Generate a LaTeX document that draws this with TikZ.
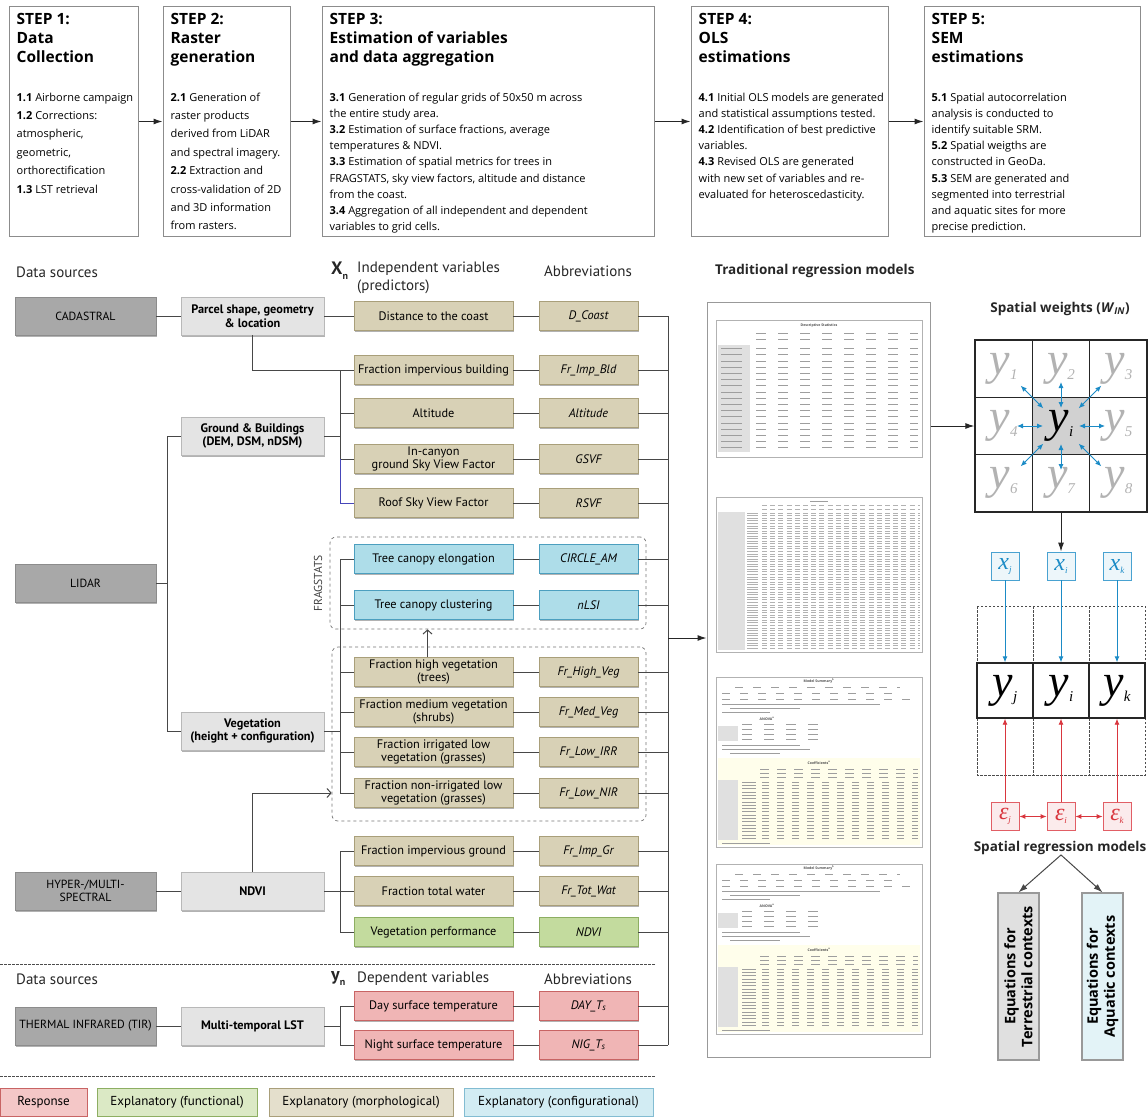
\documentclass[tikz,border=0pt]{standalone}
\usepackage{fontspec}
\setmainfont{Open Sans}
\newfontfamily\dinfont{PT Sans}
\newfontfamily\glyphit{Liberation Serif}
\usetikzlibrary{arrows.meta,shadows,positioning}

\definecolor{tanfill}{HTML}{D8D1B6}
\definecolor{tanline}{HTML}{A99F7A}
\definecolor{cfgfill}{HTML}{AEDDE9}
\definecolor{cfgline}{HTML}{4C9FBF}
\definecolor{funfill}{HTML}{C3DB9E}
\definecolor{funline}{HTML}{8DAE62}
\definecolor{resfill}{HTML}{F0B5B5}
\definecolor{resline}{HTML}{C86464}
\definecolor{srcfill}{HTML}{A8A8A8}
\definecolor{srcline}{HTML}{8C8C8C}
\definecolor{prodfill}{HTML}{E4E4E4}
\definecolor{prodline}{HTML}{B8B8B8}
\definecolor{wblue}{HTML}{1B8BC6}
\definecolor{wred}{HTML}{D9363E}

% big italic letters of the weights grid
\newcommand{\ylab}[1]{{\glyphit\itshape\fontsize{46}{46}\selectfont y}\raisebox{-5pt}{\glyphit\itshape\fontsize{15}{15}\selectfont #1}}
\newcommand{\olstab}[1]{%
  \begin{scope}[shift={(0,#1)}]
    \draw[subtab] (716,0) rectangle (922,170);
    \node[tinylbl] at (819,4) {Model Summary\textsuperscript{b}};
    \draw[ink, dash pattern=on 8pt off 10pt] (735,10) -- (900,10);
    \draw[ink, dash pattern=on 8pt off 10pt] (722,16) -- (900,16);
    \draw[ink, dash pattern=on 8pt off 10pt] (722,22) -- (910,22);
    \draw[ink] (722,27) -- (880,27);
    \draw[ink] (730,31) -- (800,31);
    \draw[ink] (722,35) -- (770,35);
    \node[tinylbl] at (767,42) {ANOVA\textsuperscript{a}};
    \fill[black!12] (718,49) rectangle (738,64);
    \foreach \yy in {47,52,57,62} \draw[ink, dash pattern=on 10pt off 12pt] (742,\yy) -- (822,\yy);
    \draw[ink] (722,68) -- (800,68);
    \draw[ink] (722,72) -- (810,72);
    \draw[ink] (730,76) -- (780,76);
    \fill[yellow!8] (718,81) rectangle (920,168);
    \node[tinylbl] at (819,86) {Coefficients\textsuperscript{a}};
    \foreach \yy in {92,96,100} \draw[ink, dash pattern=on 9pt off 8pt] (760,\yy) -- (918,\yy);
    \fill[black!12] (718,103) rectangle (738,163);
    \foreach \r in {0,...,17} {
      \draw[ink] (742,{105+3.3*\r}) -- (756,{105+3.3*\r});
      \draw[ink, dash pattern=on 7pt off 8pt] (762,{105+3.3*\r}) -- (918,{105+3.3*\r});
    }
    \draw[ink] (722,166) -- (770,166);
  \end{scope}}

\begin{document}
\begin{tikzpicture}[x=1pt,y=-1pt,
    shadowed/.style={drop shadow={shadow xshift=1.2pt,shadow yshift=-1.5pt,opacity=0.3,fill=black}},
    stepbox/.style={draw=black!45, line width=1pt, minimum height=229, inner sep=0},
    steptitle/.style={anchor=north west, align=left, inner sep=0, font=\fontsize{15.5}{18.8}\selectfont\bfseries},
    stepbody/.style={anchor=north west, align=left, inner sep=0, font=\fontsize{11}{18.4}\selectfont},
    stepbodyb/.style={stepbody, font=\fontsize{11}{16.2}\selectfont},
    steparrow/.style={draw=black!85, line width=1pt, -{Latex[length=9pt,width=6pt]}},
    src/.style={shadowed, draw=srcline, fill=srcfill, minimum width=141, minimum height=38, inner sep=1pt, align=center, font=\dinfont\fontsize{11.8}{13.5}\selectfont},
    prod/.style={shadowed, draw=prodline, fill=prodfill, minimum width=143, minimum height=38, inner sep=1pt, align=center, font=\dinfont\bfseries\fontsize{12.3}{13.5}\selectfont},
    var/.style={shadowed, draw=tanline, fill=tanfill, line width=0.9pt, minimum width=159, minimum height=29, inner sep=1pt, align=center, font=\dinfont\fontsize{12.3}{13}\selectfont},
    abbr/.style={var, minimum width=99, font=\dinfont\itshape\fontsize{12.3}{13}\selectfont},
    cfg/.style={draw=cfgline, fill=cfgfill},
    fun/.style={draw=funline, fill=funfill},
    res/.style={draw=resline, fill=resfill},
    con/.style={draw=black!72, line width=1pt},
    openarrow/.style={con, -{Straight Barb[length=4pt,width=9pt]}},
    fragbox/.style={draw=black!55, dashed, rounded corners=6pt, line width=0.7pt, inner sep=0},
    sep/.style={draw=black!70, line width=1pt, dash pattern=on 2.5pt off 1.5pt},
    head/.style={inner sep=0, align=left, text=black!85, font=\dinfont\fontsize{15}{17.5}\selectfont},
    rtitle/.style={inner sep=0, text=black!85, font=\fontsize{13.5}{15}\selectfont\bfseries},
    lgd/.style={minimum height=28, inner sep=0, font=\dinfont\fontsize{13}{14}\selectfont},
    subtab/.style={draw=black!30, line width=0.6pt},
    ink/.style={draw=black!38, line width=0.6pt},
    ink2/.style={draw=black!30, line width=0.45pt},
    tinylbl/.style={inner sep=0, font=\fontsize{3.5}{4}\selectfont\bfseries, text=black!70},
    cell/.style={draw=black!85, line width=1.4pt, minimum size=57.3, inner sep=0},
    xbox/.style={draw=wblue!80, fill=wblue!8, line width=0.8pt, minimum size=28, inner sep=0, text=wblue, font=\glyphit\itshape\fontsize{24}{24}\selectfont},
    ebox/.style={xbox, draw=wred!80, fill=wred!10, text=wred},
    ybox/.style={draw=black!85, fill=white, line width=1.4pt, minimum width=56, minimum height=55, inner sep=0},
    barrow/.style={draw=wblue, line width=0.9pt, -{Latex[length=6pt,width=5pt]}},
    rarrow/.style={draw=wred, line width=0.9pt, -{Latex[length=6pt,width=5pt]}},
    eqbox/.style={draw=black!40, line width=1.2pt, rotate=90, minimum width=167, minimum height=41, inner sep=0, align=center, font=\fontsize{14.5}{17}\selectfont\bfseries}
  ]
  \useasboundingbox (0,0) rectangle (1148,1116);

  % five steps
  \node[stepbox, minimum width=129] (s1) at (73.5,121.5) {};
  \node[stepbox, minimum width=127] (s2) at (226.5,121.5) {};
  \node[stepbox, minimum width=332] (s3) at (488,121.5) {};
  \node[stepbox, minimum width=197] (s4) at (789.5,121.5) {};
  \node[stepbox, minimum width=216] (s5) at (1032,121.5) {};
  \node[steptitle] (t1) at ([shift={(8,7)}]s1.north west) {STEP 1:\\Data\\Collection};
  \node[steptitle] (t2) at ([shift={(8,7)}]s2.north west) {STEP 2:\\Raster\\generation};
  \node[steptitle] (t3) at ([shift={(8,7)}]s3.north west) {STEP 3:\\Estimation of variables\\and data aggregation};
  \node[steptitle] (t4) at ([shift={(8,7)}]s4.north west) {STEP 4:\\OLS\\estimations};
  \node[steptitle] (t5) at ([shift={(8,7)}]s5.north west) {STEP 5:\\SEM\\estimations};
  \node[stepbody] (b1) at ([shift={(8,86)}]s1.north west) {\textbf{1.1} Airborne campaign\\\textbf{1.2} Corrections:\\atmospheric,\\geometric,\\orthorectification\\\textbf{1.3} LST retrieval};
  \node[stepbody] (b2) at ([shift={(8,86)}]s2.north west) {\textbf{2.1} Generation of\\raster products\\derived from LiDAR\\and spectral imagery.\\\textbf{2.2} Extraction and\\cross-validation of 2D\\and 3D information\\from rasters.};
  \node[stepbodyb] (b3) at ([shift={(8,86)}]s3.north west) {\textbf{3.1} Generation of regular grids of 50x50 m across\\the entire study area.\\\textbf{3.2} Estimation of surface fractions, average\\temperatures \& NDVI.\\\textbf{3.3} Estimation of spatial metrics for trees in\\FRAGSTATS, sky view factors, altitude and distance\\from the coast.\\\textbf{3.4} Aggregation of all independent and dependent\\variables to grid cells.};
  \node[stepbodyb] (b4) at ([shift={(8,86)}]s4.north west) {\textbf{4.1} Initial OLS models are generated\\and statistical assumptions tested.\\\textbf{4.2} Identification of best predictive\\variables.\\\textbf{4.3} Revised OLS are generated\\with new set of variables and re-\\evaluated for heteroscedasticity.};
  \node[stepbodyb] (b5) at ([shift={(8,86)}]s5.north west) {\textbf{5.1} Spatial autocorrelation\\analysis is conducted to\\identify suitable SRM.\\\textbf{5.2} Spatial weigths are\\constructed in GeoDa.\\\textbf{5.3} SEM are generated and\\segmented into terrestrial\\and aquatic sites for more\\precise prediction.};
  \draw[steparrow] (s1) -- (s2);
  \draw[steparrow] (s2) -- (s3);
  \draw[steparrow] (s3) -- (s4);
  \draw[steparrow] (s4) -- (s5);

  % headings
  \node[head, anchor=west] (hds) at (16,272) {Data sources};
  \node[head, anchor=west] (hxn) at (331,271) {{\fontsize{18}{18}\selectfont\bfseries X}\raisebox{-5pt}{\fontsize{10}{10}\selectfont\bfseries n}};
  \node[head, anchor=north west] (hiv) at (357,262) {Independent variables\\(predictors)};
  \node[head] (hab) at (588,271) {Abbreviations};
  \node[rtitle, anchor=west] (htr) at (715,271) {Traditional regression models};
  \node[head, anchor=west] (hds2) at (16,979) {Data sources};
  \node[head, anchor=west] (hyn) at (331,978) {{\fontsize{18}{18}\selectfont\bfseries y}\raisebox{-5pt}{\fontsize{10}{10}\selectfont\bfseries n}};
  \node[head, anchor=west] (hdv) at (357,979) {Dependent variables};
  \node[head] (hab2) at (588,979) {Abbreviations};

  % dashed groups
  \node[fragbox, minimum width=316, minimum height=92] (frag) at (488,583) {};
  \node[fragbox, minimum width=314, minimum height=174] (vegfr) at (489,734) {};
  \node[rotate=90, inner sep=0, text=black!75, font=\dinfont\fontsize{11.5}{11.5}\selectfont] (fraglbl) at (318,583) {FRAGSTATS};

  % sources and products
  \node[src] (cad) at (85.5,316) {CADASTRAL};
  \node[src] (lidar) at (85.5,583) {LIDAR};
  \node[src] (hyper) at (85.5,891) {HYPER-/MULTI-\\SPECTRAL};
  \node[src] (tir) at (85.5,1026) {THERMAL INFRARED (TIR)};
  \node[prod] (parcel) at (252.5,316) {Parcel shape, geometry\\\& location};
  \node[prod] (ground) at (252.5,436) {Ground \& Buildings\\(DEM, DSM, nDSM)};
  \node[prod] (veg) at (252.5,731) {Vegetation\\(height + configuration)};
  \node[prod] (ndvi) at (252.5,891) {NDVI};
  \node[prod] (lst) at (252.5,1026) {Multi-temporal LST};

  % variables and abbreviations
  \node[var] (dist) at (433.5,316) {Distance to the coast};
  \node[abbr] (adist) at (588.5,316) {D\_Coast};
  \node[var] (frimpb) at (433.5,370) {Fraction impervious building};
  \node[abbr] (afrimpb) at (588.5,370) {Fr\_Imp\_Bld};
  \node[var] (alt) at (433.5,413) {Altitude};
  \node[abbr] (aalt) at (588.5,413) {Altitude};
  \node[var] (gsvf) at (433.5,459) {In-canyon\\ground Sky View Factor};
  \node[abbr] (agsvf) at (588.5,459) {GSVF};
  \node[var] (rsvf) at (433.5,503) {Roof Sky View Factor};
  \node[abbr] (arsvf) at (588.5,503) {RSVF};
  \node[var, cfg] (elong) at (433.5,559) {Tree canopy elongation};
  \node[abbr, cfg] (aelong) at (588.5,559) {CIRCLE\_AM};
  \node[var, cfg] (clust) at (433.5,605) {Tree canopy clustering};
  \node[abbr, cfg] (aclust) at (588.5,605) {nLSI};
  \node[var] (high) at (433.5,672) {Fraction high vegetation\\(trees)};
  \node[abbr] (ahigh) at (588.5,672) {Fr\_High\_Veg};
  \node[var] (med) at (433.5,712) {Fraction medium vegetation\\(shrubs)};
  \node[abbr] (amed) at (588.5,712) {Fr\_Med\_Veg};
  \node[var] (irr) at (433.5,752) {Fraction irrigated low\\vegetation (grasses)};
  \node[abbr] (airr) at (588.5,752) {Fr\_Low\_IRR};
  \node[var] (nir) at (433.5,793) {Fraction non-irrigated low\\vegetation (grasses)};
  \node[abbr] (anir) at (588.5,793) {Fr\_Low\_NIR};
  \node[var] (impgr) at (433.5,851) {Fraction impervious ground};
  \node[abbr] (aimpgr) at (588.5,851) {Fr\_Imp\_Gr};
  \node[var] (water) at (433.5,891) {Fraction total water};
  \node[abbr] (awater) at (588.5,891) {Fr\_Tot\_Wat};
  \node[var, fun] (perf) at (433.5,932) {Vegetation performance};
  \node[abbr, fun] (aperf) at (588.5,932) {NDVI};
  \node[var, res] (day) at (433.5,1006) {Day surface temperature};
  \node[abbr, res] (aday) at (588.5,1006) {DAY\_T\textsubscript{s}};
  \node[var, res] (night) at (433.5,1045) {Night surface temperature};
  \node[abbr, res] (anight) at (588.5,1045) {NIG\_T\textsubscript{s}};

  % connectors of the left tree
  \coordinate (lb) at (167,0);
  \coordinate (gb) at (340,0);
  \coordinate (rb) at (668,0);
  \coordinate (busarr) at (668,638);
  \draw[con] (cad) -- (parcel);
  \draw[con] (parcel) -- (dist);
  \draw[con] (parcel.south) |- (frimpb.west);
  \draw[con] (gb |- frimpb) -- (gb |- gsvf);
  \draw[con] (ground.east) -- (ground.east -| gb);
  \foreach \v in {alt,gsvf} \draw[con] (gb |- \v) -- (\v.west);
  \draw[draw=blue!45!gray, line width=0.6pt] (gb |- gsvf) |- (rsvf.west);
  \draw[con] (lidar.east) -- (lidar.east -| lb);
  \draw[con] (ground.west) -| (lb |- veg) -- (veg.west);
  \draw[con] (gb |- elong) -- (gb |- nir);
  \draw[con] (veg.east) -- (veg.east -| gb);
  \foreach \v in {elong,clust,high,med,irr,nir} \draw[con] (gb |- \v) -- (\v.west);
  \draw[openarrow] ([xshift=-6pt]high.north) -- ([xshift=-6pt]high.north |- frag.south);
  \draw[openarrow] (ndvi.north) |- (nir -| vegfr.west);
  \draw[con] (hyper) -- (ndvi);
  \draw[con] (gb |- impgr) -- (gb |- perf);
  \draw[con] (ndvi.east) -- (ndvi.east -| gb);
  \foreach \v in {impgr,water,perf} \draw[con] (gb |- \v) -- (\v.west);
  \draw[con] (tir) -- (lst);
  \draw[con] (gb |- day) -- (gb |- night);
  \draw[con] (lst.east) -- (lst.east -| gb);
  \foreach \v in {day,night} \draw[con] (gb |- \v) -- (\v.west);
  \foreach \v in {dist,frimpb,alt,gsvf,rsvf,elong,clust,high,med,irr,nir,impgr,water,perf,day,night} {
    \draw[con] (\v) -- (a\v);
    \draw[con] (a\v.east) -- (a\v.east -| rb);
  }
  \draw[con] (rb |- adist) -- (rb |- anight);

  \draw[sep] (0,964) -- (655,964);
  \draw[sep] (0,1076) -- (655,1076);

  % legend
  \node[lgd, draw=resline, fill=resfill!75, minimum width=87] (lg1) at (43.5,1102.5) {Response};
  \node[lgd, draw=funline, fill=funfill!60, minimum width=160] (lg2) at (177,1102.5) {Explanatory (functional)};
  \node[lgd, draw=tanline, fill=tanfill!70, minimum width=184] (lg3) at (361,1102.5) {Explanatory (morphological)};
  \node[lgd, draw=cfgline!70, fill=cfgfill!55, minimum width=189] (lg4) at (558.5,1102.5) {Explanatory (configurational)};

  % regression output screenshots
  \node[draw=black!40, line width=1pt, minimum width=223, minimum height=755, inner sep=0] (tab) at (818.5,679.5) {};
  \draw[steparrow] (busarr) -- (busarr -| tab.west);
  \draw[subtab] (716,320) rectangle (922,457);
  \node[tinylbl] (dstitle) at (819,326) {Descriptive Statistics};
  \foreach \yy in {333,339} \draw[ink, dash pattern=on 10pt off 12pt] (756,\yy) -- (918,\yy);
  \fill[black!12] (718,345) rectangle (750,452);
  \foreach \r in {0,...,16} {
    \draw[ink] (721,{348.5+6.2*\r}) -- (742,{348.5+6.2*\r});
    \draw[ink, dash pattern=on 10pt off 12pt] (756,{348.5+6.2*\r}) -- (918,{348.5+6.2*\r});
  }
  \draw[subtab] (716,497) rectangle (922,652);
  \draw[ink] (810,501) -- (828,501);
  \foreach \yy in {505,509} \draw[ink2, dash pattern=on 5pt off 3.2pt] (762,\yy) -- (920,\yy);
  \fill[black!12] (718,512) rectangle (745,650);
  \foreach \r in {0,...,53} {
    \draw[ink2] (747,{513+2.55*\r}) -- (758,{513+2.55*\r});
    \draw[ink2, dash pattern=on 5pt off 3.2pt] (762,{513+2.55*\r}) -- (920,{513+2.55*\r});
  }
  \olstab{677}
  \olstab{864}

  % spatial weights grid
  \node[rtitle] (swt) at (1060,309) {Spatial weights (\textit{W}\textsubscript{\textit{IN}})};
  \foreach \n/\cx/\cy in {1/-1/-1,2/0/-1,3/1/-1,4/-1/0,5/1/0,6/-1/1,7/0/1,8/1/1}
    \node[cell, text=black!30] (w\n) at ({1061+57.3*\cx},{426+57.3*\cy}) {\ylab{\n}};
  \node[cell, fill=black!18] (wi) at (1061,426) {\ylab{i}};
  \foreach \a in {0,90,180,270}
    \draw[draw=wblue, line width=0.9pt, {Latex[length=6pt,width=5pt]}-{Latex[length=6pt,width=5pt]}] ([shift={(\a:18pt)}]wi.center) -- ([shift={(\a:44pt)}]wi.center);
  \foreach \a in {45,135,225,315}
    \draw[draw=wblue, line width=0.9pt, {Latex[length=6pt,width=5pt]}-{Latex[length=6pt,width=5pt]}] ([shift={(\a:25pt)}]wi.center) -- ([shift={(\a:57pt)}]wi.center);
  \draw[steparrow] (tab.east |- w4) -- (w4.west);

  % spatial error model
  \draw[sep, line width=0.7pt] (977,606) rectangle (1145,775);
  \draw[sep, line width=0.7pt] (1033,606) -- (1033,775);
  \draw[sep, line width=0.7pt] (1089,606) -- (1089,775);
  \node[xbox] (xj) at (1005,566) {x\raisebox{-3pt}{\fontsize{9}{9}\selectfont j}};
  \node[xbox] (xi) at (1061,566) {x\raisebox{-3pt}{\fontsize{9}{9}\selectfont i}};
  \node[xbox] (xk) at (1117,566) {x\raisebox{-3pt}{\fontsize{9}{9}\selectfont k}};
  \draw[steparrow] (w7.south) -- (xi.north);
  \node[ybox] (yj) at (1005,690.5) {\ylab{j}};
  \node[ybox] (yi) at (1061,690.5) {\ylab{i}};
  \node[ybox] (yk) at (1117,690.5) {\ylab{k}};
  \node[ebox] (ej) at (1005,816.5) {ε\raisebox{-3pt}{\fontsize{9}{9}\selectfont j}};
  \node[ebox] (ei) at (1061,816.5) {ε\raisebox{-3pt}{\fontsize{9}{9}\selectfont i}};
  \node[ebox] (ek) at (1117,816.5) {ε\raisebox{-3pt}{\fontsize{9}{9}\selectfont k}};
  \foreach \c in {j,i,k} {
    \draw[barrow] (x\c.south) -- (y\c.north);
    \draw[rarrow] (e\c.north) -- (y\c.south);
  }
  \draw[rarrow, {Latex[length=6pt,width=5pt]}-{Latex[length=6pt,width=5pt]}] (ej) -- (ei);
  \draw[rarrow, {Latex[length=6pt,width=5pt]}-{Latex[length=6pt,width=5pt]}] (ei) -- (ek);

  % spatial regression models
  \node[rtitle] (srm) at (1060,848) {Spatial regression models};
  \node[eqbox, fill=black!12] (terr) at (1018.5,976.5) {Equations for\\Terrestrial contexts};
  \node[eqbox, fill=cfgfill!35] (aqua) at (1102.5,976.5) {Equations for\\Aquatic contexts};
  \draw[con, -{Latex[length=9pt,width=6pt]}] ([xshift=1pt]srm.south) -- (terr.east);
  \draw[con, -{Latex[length=9pt,width=6pt]}] ([xshift=1pt]srm.south) -- (aqua.east);
\end{tikzpicture}
\end{document}
